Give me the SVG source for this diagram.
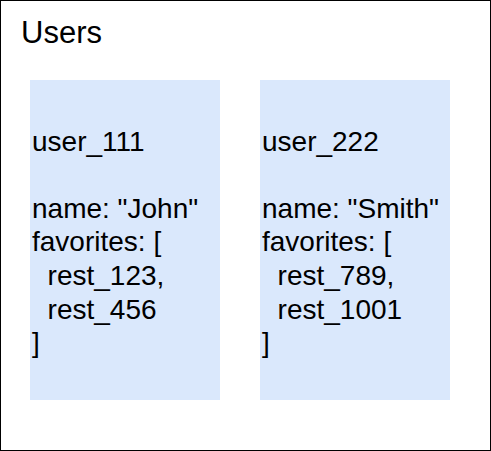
<svg xmlns="http://www.w3.org/2000/svg" width="491" height="451" viewBox="0 0 491 451">
<style>
.t{font-family:"Liberation Sans",Arial,Helvetica,sans-serif;font-size:28px;fill:#000}
.box{fill:#dae8fc;stroke:none}
</style>
<rect width="491" height="451" fill="#fff"/>
<g id="users">
<rect x="0.5" y="0.5" width="490" height="450" fill="#fff" stroke="#000" stroke-width="1"/>
<text x="21" y="43" class="t" style="font-size:31px">Users</text>
</g>
<g id="user_111">
<rect class="box" x="30" y="80" width="190" height="320"/>
<text class="t"><tspan x="32" y="150.5">user_111</tspan><tspan x="32" y="217.7">name: "John"</tspan><tspan x="32" y="251.3">favorites: [</tspan><tspan x="47.6" y="284.9">rest_123,</tspan><tspan x="47.6" y="318.5">rest_456</tspan><tspan x="32" y="352.1">]</tspan></text>
</g>
<g id="user_222">
<rect class="box" x="260" y="80" width="190" height="320"/>
<text class="t"><tspan x="262" y="150.5">user_222</tspan><tspan x="262" y="217.7">name: "Smith"</tspan><tspan x="262" y="251.3">favorites: [</tspan><tspan x="277.6" y="284.9">rest_789,</tspan><tspan x="277.6" y="318.5">rest_1001</tspan><tspan x="262" y="352.1">]</tspan></text>
</g>
<g id="connectors"></g>
</svg>
